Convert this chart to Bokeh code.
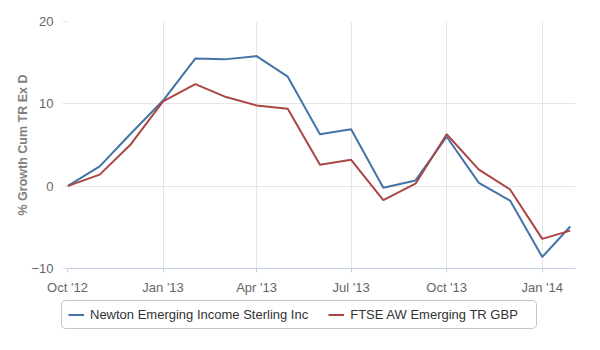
from datetime import datetime
from bokeh.plotting import figure
from bokeh.layouts import column
from bokeh.models import (Range1d, FixedTicker, DatetimeTickFormatter, Legend, LegendItem,
                          ColumnDataSource)
from bokeh.embed import file_html
from bokeh.resources import INLINE

dates = ["2012-10-01", "2012-11-01", "2012-12-01", "2013-01-01", "2013-02-01", "2013-03-01",
         "2013-04-01", "2013-05-01", "2013-06-01", "2013-07-01", "2013-08-01", "2013-09-01",
         "2013-10-01", "2013-11-01", "2013-12-01", "2014-01-01", "2014-01-28"]
newton = [0, 2.4, 6.4, 10.4, 15.5, 15.4, 15.8, 13.3, 6.3, 6.9, -0.2, 0.7, 6.0, 0.4, -1.75, -8.6, -4.9]
ftse = [0, 1.4, 5.1, 10.3, 12.4, 10.9, 9.8, 9.4, 2.6, 3.2, -1.7, 0.3, 6.3, 2.0, -0.4, -6.4, -5.4]
series_names = ["Newton Emerging Income Sterling Inc", "FTSE AW Emerging TR GBP"]
series_colors = ["#4572A7", "#AA4643"]
tick_dates = ["2012-10-01", "2013-01-01", "2013-04-01", "2013-07-01", "2013-10-01", "2014-01-01"]
y_ticks = [-10, 0, 10, 20]
y_title = "% Growth Cum TR Ex D"

FONT = "Liberation Sans, Arial, sans-serif"
x = [datetime.strptime(d, "%Y-%m-%d") for d in dates]
src = ColumnDataSource(dict(x=x, newton=newton, ftse=ftse))

p = figure(width=600, height=300, x_axis_type="datetime", output_backend="svg",
           toolbar_location=None,
           x_range=Range1d(datetime(2012, 10, 1), datetime(2014, 2, 2)),
           y_range=Range1d(-10, 20),
           min_border_left=67, min_border_right=25, min_border_top=21, min_border_bottom=32)
p.outline_line_color = None
p.background_fill_color = "white"

epoch = datetime(1970, 1, 1)
tick_ms = [(datetime.strptime(d, "%Y-%m-%d") - epoch).total_seconds() * 1000 for d in tick_dates]
p.xaxis.ticker = FixedTicker(ticks=tick_ms)
fmt = "%b '%y"
p.xaxis.formatter = DatetimeTickFormatter(days=fmt, months=fmt, years=fmt, hours=fmt,
                                          minutes=fmt, seconds=fmt, milliseconds=fmt,
                                          microseconds=fmt, minsec=fmt, hourmin=fmt)
p.yaxis.ticker = FixedTicker(ticks=y_ticks)

for ax in (p.xaxis[0], p.yaxis[0]):
    ax.major_label_text_font = FONT
    ax.major_label_text_font_size = "13px"
    ax.major_label_text_color = "#666666"
    ax.minor_tick_line_color = None

p.xaxis.axis_line_color = "#C0D0E0"
p.xaxis.major_tick_line_color = "#C0D0E0"
p.xaxis.major_tick_out = 4
p.xaxis.major_tick_in = 0
p.xaxis.major_label_standoff = 7

p.yaxis.axis_line_color = None
p.yaxis.major_tick_line_color = "#E6E6E6"
p.yaxis.major_tick_out = 5
p.yaxis.major_tick_in = 0
p.yaxis.major_label_standoff = 9
p.yaxis.axis_label = y_title
p.yaxis.axis_label_text_font = FONT
p.yaxis.axis_label_text_font_size = "12.5px"
p.yaxis.axis_label_text_font_style = "bold"
p.yaxis.axis_label_text_color = "#808080"
p.yaxis.axis_label_standoff = -2

p.xgrid.grid_line_color = "#E6E6E6"
p.ygrid.grid_line_color = "#E6E6E6"

p.line("x", "newton", source=src, line_color=series_colors[0], line_width=2)
p.line("x", "ftse", source=src, line_color=series_colors[1], line_width=2)

# legend strip below the chart (its own frame spans the full width)
lg = figure(width=600, height=50, output_backend="svg", toolbar_location=None,
            x_axis_location=None, y_axis_location=None,
            x_range=Range1d(0, 1), y_range=Range1d(0, 1),
            min_border_left=0, min_border_right=0, min_border_top=0, min_border_bottom=0)
lg.frame_align = False
lg.outline_line_color = None
lg.xgrid.visible = False
lg.ygrid.visible = False
items = []
for name, col, key in zip(series_names, series_colors, ["newton", "ftse"]):
    r = lg.line("x", key, source=src, line_color=col, line_width=2)
    items.append(LegendItem(label=name, renderers=[r]))

legend = Legend(items=items, orientation="horizontal", location=(61, 21), margin=0, padding=6,
                spacing=20, glyph_width=16, glyph_height=13, label_height=13, label_width=180,
                label_standoff=6, label_text_font=FONT, label_text_font_size="13px",
                label_text_color="#333333", border_line_color="#909090",
                border_line_width=1, border_radius=5, background_fill_alpha=1)
lg.add_layout(legend, "center")

layout = column(p, lg, spacing=0)
open("out.html", "w").write(file_html(layout, INLINE))
